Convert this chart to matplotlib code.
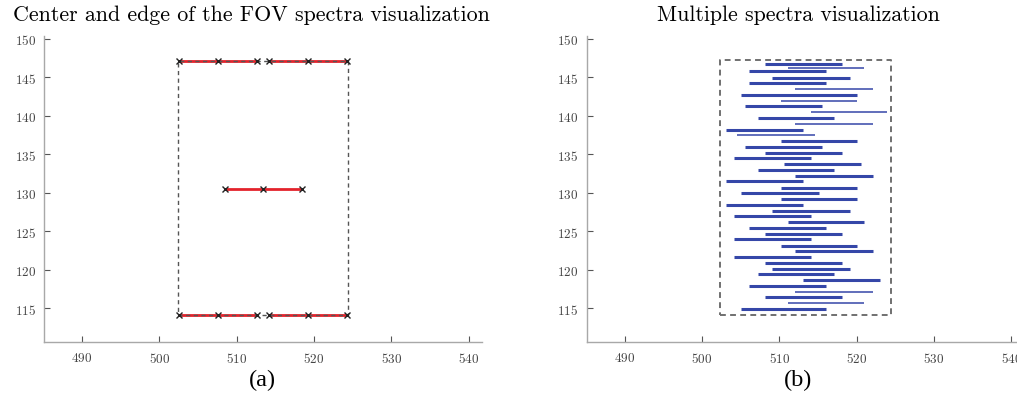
import numpy as np
import matplotlib
matplotlib.use("Agg")
import matplotlib.pyplot as plt

# ---- data ----
# (a) centre and edge of the FOV
fov_x = [502.4, 524.4]
fov_y = [114.2, 147.1]
edge_left_x = [502.6, 507.6, 512.6]
edge_right_x = [514.2, 519.2, 524.3]
edge_top_y = 147.1
edge_bottom_y = 114.2
center_x = [508.5, 513.4, 518.4]
center_y = 130.5

# (b) multiple spectra
box_x = [502.4, 524.5]
box_y = [114.15, 147.2]
spec_y = [146.74, 146.26, 145.78, 144.96, 144.23, 143.54, 142.76, 141.98,
          141.25, 140.47, 139.74, 138.96, 138.23, 137.49, 136.71, 135.98,
          135.20, 134.47, 133.69, 132.96, 132.18, 131.49, 130.67, 129.98,
          129.16, 128.47, 127.69, 126.96, 126.18, 125.44, 124.67, 123.98,
          123.16, 122.47, 121.69, 120.96, 120.18, 119.44, 118.67, 117.93,
          117.15, 116.42, 115.65, 114.91]
spec_x0 = [508.1, 511.1, 506.1, 509.1, 506.1, 512.1, 505.1, 510.2, 505.6,
           514.1, 507.2, 512.1, 503.1, 504.6, 510.2, 505.6, 508.1, 504.1,
           510.6, 507.2, 512.1, 503.1, 510.2, 505.1, 510.2, 503.1, 509.1,
           504.1, 511.1, 506.1, 508.1, 504.1, 510.2, 512.1, 504.1, 508.1,
           509.1, 507.2, 513.1, 506.1, 512.1, 508.1, 511.1, 505.1]
spec_x1 = [518.1, 521.0, 516.0, 519.1, 516.0, 522.1, 520.1, 520.1, 515.6,
           524.0, 517.1, 522.1, 513.1, 514.6, 520.1, 515.6, 518.1, 514.1,
           520.6, 517.1, 522.1, 513.1, 520.1, 515.1, 520.1, 513.1, 519.1,
           514.1, 521.0, 516.0, 518.1, 514.1, 520.1, 522.1, 514.1, 518.1,
           519.1, 517.1, 523.0, 516.0, 522.1, 518.1, 521.0, 516.0]
spec_weight = [1, 0.5, 1, 1, 1, 0.5, 1, 0.5, 1, 0.5, 1, 0.5, 1, 0.5, 1, 1,
               1, 1, 1, 1, 1, 1, 1, 1, 1, 1, 1, 1, 1, 1, 1, 1, 1, 1, 1, 1,
               1, 1, 1, 1, 0.5, 1, 0.5, 1]

xticks = [490, 500, 510, 520, 530, 540]
yticks = [115, 120, 125, 130, 135, 140, 145, 150]
xlim = (485.1, 541.8)
ylim = (110.6, 150.4)

plt.rcParams["font.family"] = ["cmr10", "DejaVu Serif"]
plt.rcParams["axes.formatter.use_mathtext"] = True

fig = plt.figure(figsize=(10.17, 4.06), dpi=100)
ax1 = fig.add_axes([0.0434, 0.1544, 0.431, 0.755])
ax2 = fig.add_axes([0.5769, 0.1544, 0.431, 0.755])

for ax in (ax1, ax2):
    ax.set_xlim(xlim)
    ax.set_ylim(ylim)
    ax.set_xticks(xticks)
    ax.set_yticks(yticks)
    for s in ("top", "right"):
        ax.spines[s].set_visible(False)
    for s in ("left", "bottom"):
        ax.spines[s].set_color("#a8a8a8")
        ax.spines[s].set_linewidth(1.0)
    ax.tick_params(direction="in", length=4, width=0.8, color="#555555",
                   labelsize=9.5, labelcolor="#444444", pad=6)

# (a)
red = "#e3232b"
for ey in (edge_top_y, edge_bottom_y):
    for ex in (edge_left_x, edge_right_x):
        ax1.plot(ex, [ey] * len(ex), "-", color=red, lw=2.0, zorder=2)
        ax1.plot(ex, [ey] * len(ex), "x", color="#222222", ms=5, mew=1.0,
                 zorder=4)
ax1.plot(center_x, [center_y] * len(center_x), "-", color=red, lw=2.0)
ax1.plot(center_x, [center_y] * len(center_x), "x", color="#222222", ms=5,
         mew=1.0, zorder=4)
ax1.plot([fov_x[0], fov_x[1], fov_x[1], fov_x[0], fov_x[0]],
         [fov_y[0], fov_y[0], fov_y[1], fov_y[1], fov_y[0]],
         color="#555555", lw=1.0, dashes=(3, 2.5), zorder=3)

# (b)
blue = "#3547a8"
for y, x0, x1, w in zip(spec_y, spec_x0, spec_x1, spec_weight):
    ax2.plot([x0, x1], [y, y], "-", color=blue, lw=2.2 * w,
             solid_capstyle="butt")
ax2.plot([box_x[0], box_x[1], box_x[1], box_x[0], box_x[0]],
         [box_y[0], box_y[0], box_y[1], box_y[1], box_y[0]],
         color="#707070", lw=1.4, dashes=(3, 2.2))

fig.text(0.247, 0.962, "Center and edge of the FOV spectra visualization",
         ha="center", va="center", fontsize=15.8)
fig.text(0.785, 0.962, "Multiple spectra visualization",
         ha="center", va="center", fontsize=15.8)
fig.text(0.258, 0.062, "(a)", ha="center", va="center", fontsize=17.5,
         family="Liberation Serif")
fig.text(0.785, 0.062, "(b)", ha="center", va="center", fontsize=17.5,
         family="Liberation Serif")

fig.savefig("out.png", dpi=100)
